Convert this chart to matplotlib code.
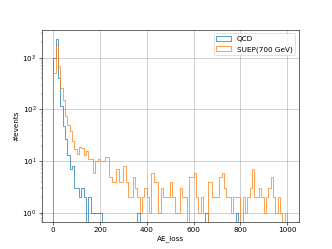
import numpy as np
import matplotlib
matplotlib.use('Agg')
import matplotlib.pyplot as plt

# 히스토그램 구간: 0 ~ 1000, 폭 10
bin_edges = np.arange(0, 1010, 10)

# QCD 구간별 이벤트 수
qcd_counts = [1000, 2330, 400, 117, 48, 27, 13, 7, 8, 3,
              3, 2, 3, 2, 0, 2, 1, 1, 1, 1,
              1, 0, 0, 0, 0, 0, 0, 0, 0, 0,
              0, 0, 0, 0, 0, 0, 1, 0, 0, 0,
              0, 0, 0, 0, 0, 0, 0, 0, 0, 0,
              0, 0, 0, 0, 0, 0, 0, 0, 0, 0,
              0, 0, 0, 0, 0, 1, 0, 0, 0, 0,
              0, 0, 0, 0, 0, 0, 0, 0, 1, 0,
              0, 0, 0, 0, 0, 0, 0, 0, 0, 0,
              0, 0, 0, 0, 0, 0, 0, 0, 0, 0]

# SUEP(700 GeV) 구간별 이벤트 수
suep_counts = [500, 1770, 680, 255, 155, 76, 49, 39, 25, 17,
               14, 19, 18, 13, 16, 11, 11, 6, 10, 11,
               10, 10, 12, 12, 5, 4, 4, 7, 4, 4,
               8, 4, 2, 2, 5, 3, 2, 1, 2, 3,
               2, 1, 6, 4, 4, 1, 3, 2, 2, 2,
               4, 2, 1, 1, 3, 2, 2, 0, 5, 5,
               6, 2, 1, 2, 1, 0, 4, 4, 2, 2,
               2, 5, 6, 3, 2, 2, 1, 2, 2, 2,
               0, 2, 1, 2, 3, 7, 2, 2, 3, 2,
               1, 2, 3, 5, 2, 1, 2, 1, 0, 1]

labels = ['QCD', 'SUEP(700 GeV)']

bin_centers = (bin_edges[:-1] + bin_edges[1:]) / 2

fig, ax = plt.subplots(figsize=(6.4, 4.8), dpi=51.875)

ax.hist(bin_centers, bins=bin_edges, weights=qcd_counts,
        histtype='step', label=labels[0])
ax.hist(bin_centers, bins=bin_edges, weights=suep_counts,
        histtype='step', label=labels[1])

ax.set_yscale('log')
# 로그축 여백 (기본 5%)
top = max(max(qcd_counts), max(suep_counts))
span = np.log10(top)
ax.set_ylim(10 ** (-0.05 * span), 10 ** (span * 1.05))

ax.set_xlabel('AE_loss')
ax.set_ylabel('#events')
ax.grid(True)
ax.legend(loc='upper right')

fig.savefig('out.png', dpi=51.875)
